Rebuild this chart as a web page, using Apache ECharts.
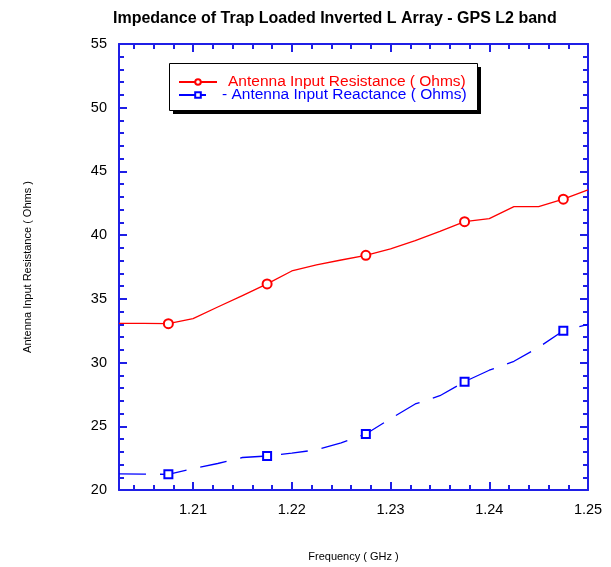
<!DOCTYPE html>
<html>
<head>
<meta charset="utf-8">
<script src="https://cdn.jsdelivr.net/npm/echarts@6/dist/echarts.min.js"></script>
<style>
  html, body { margin: 0; padding: 0; background: #fff; }
  #chart { width: 611px; height: 567px; }
</style>
</head>
<body>
<div id="chart"></div>
<script>
const titleText = 'Impedance of Trap Loaded Inverted L Array - GPS L2 band';
const resName = 'Antenna Input Resistance ( Ohms)';
const reaName = 'Antenna Input Reactance ( Ohms)';
const xName = 'Frequency ( GHz )';
const yName = 'Antenna Input Resistance ( Ohms )';

const freq = [1.2025, 1.205, 1.2075, 1.21, 1.2125, 1.215, 1.2175, 1.22, 1.2225, 1.225,
              1.2275, 1.23, 1.2325, 1.235, 1.2375, 1.24, 1.2425, 1.245, 1.2475, 1.25];
const resistance = [33.08, 33.08, 33.05, 33.45, 34.36, 35.26, 36.17, 37.19, 37.66, 38.05,
                    38.42, 38.92, 39.57, 40.3, 41.06, 41.30, 42.24, 42.24, 42.82, 43.55];
const reactance = [21.26, 21.25, 21.23, 21.67, 22.08, 22.55, 22.67, 22.9, 23.15, 23.7,
                   24.4, 25.6, 26.75, 27.4, 28.5, 29.4, 30.1, 31.2, 32.5, 33.0];
const markerFreqs = [1.2075, 1.2175, 1.2275, 1.2375, 1.2475];

const xMajorTicks = [1.21, 1.22, 1.23, 1.24, 1.25];
const xMinorTicks = [1.204, 1.206, 1.208, 1.212, 1.214, 1.216, 1.218, 1.222, 1.224, 1.226, 1.228,
                     1.232, 1.234, 1.236, 1.238, 1.242, 1.244, 1.246, 1.248];
const yMin = 20, yMax = 55, yStep = 5;
const xMin = 1.2025, xMax = 1.25;

const FONT = 'Liberation Sans, Arial, sans-serif';
const AXIS_BLUE = '#1f1fe6';
const RED = '#ff0000';
const BLUE = '#0000ff';

function buildData(vals, sym) {
  return freq.map((f, i) => ({
    value: [f, vals[i]],
    symbol: markerFreqs.includes(f) ? sym : 'none'
  }));
}

function xAxisDef(pos, ticks, len, showLine, showLabel) {
  return {
    type: 'value', position: pos, min: xMin, max: xMax,
    splitLine: { show: false },
    axisLine: { show: showLine, onZero: false, lineStyle: { color: AXIS_BLUE, width: 2 } },
    axisTick: { show: true, inside: true, length: len, customValues: ticks,
                lineStyle: { color: AXIS_BLUE, width: 2 } },
    axisLabel: showLabel ? { show: true, customValues: xMajorTicks, color: '#000', fontSize: 14.5,
                 fontFamily: FONT, margin: 12, formatter: v => v.toFixed(2) } : { show: false }
  };
}

function yAxisDef(pos, showLabel) {
  return {
    type: 'value', position: pos, min: yMin, max: yMax, interval: yStep,
    splitLine: { show: false },
    axisLine: { show: true, onZero: false, lineStyle: { color: AXIS_BLUE, width: 2 } },
    axisTick: { show: true, inside: true, length: 8, lineStyle: { color: AXIS_BLUE, width: 2 } },
    minorTick: { show: true, splitNumber: 5, length: 5, lineStyle: { color: AXIS_BLUE, width: 2 } },
    axisLabel: showLabel ? { show: true, color: '#000', fontSize: 14.5, fontFamily: FONT, margin: 12 } : { show: false }
  };
}

const chart = echarts.init(document.getElementById('chart'), null, { renderer: 'canvas' });

const xAxes = [
  xAxisDef('bottom', xMajorTicks, 8, true, true),
  xAxisDef('bottom', xMinorTicks, 5, false, false),
  xAxisDef('top', xMajorTicks, 8, true, false),
  xAxisDef('top', xMinorTicks, 5, false, false)
];
Object.assign(xAxes[0], {
  name: xName, nameLocation: 'middle', nameGap: 61,
  nameTextStyle: { fontSize: 11, fontFamily: FONT, color: '#000' }
});
const yAxes = [yAxisDef('left', true), yAxisDef('right', false)];
Object.assign(yAxes[0], {
  name: yName, nameLocation: 'middle', nameGap: 86,
  nameTextStyle: { fontSize: 11, fontFamily: FONT, color: '#000' }
});

chart.setOption({
  animation: false,
  backgroundColor: '#fff',
  title: {
    text: titleText, left: 108, top: 6,
    textStyle: { fontSize: 16, fontWeight: 'bold', fontFamily: FONT, color: '#000' }
  },
  graphic: [
    { type: 'rect', z: 1, shape: { x: 173, y: 67, width: 308, height: 47 },
      style: { fill: '#000' } },
    { type: 'rect', z: 2, shape: { x: 169.5, y: 63.5, width: 308, height: 47 },
      style: { fill: '#fff', stroke: '#000', lineWidth: 1 } }
  ],
  legend: {
    left: 169, top: 63, orient: 'vertical', z: 10,
    padding: [11, 10, 9, 9],
    itemWidth: 38, itemHeight: 7, itemGap: -3,
    textStyle: { fontSize: 15.5, fontFamily: FONT, lineHeight: 14 },
    formatter: name => (name === reaName ? '- ' + name : name),
    data: [
      { name: resName, textStyle: { color: RED, padding: [0, 0, 0, 6] } },
      { name: reaName, textStyle: { color: BLUE, padding: [0, 0, 0, 0] } }
    ]
  },
  grid: { left: 119, right: 23, top: 44, bottom: 77 },
  xAxis: xAxes,
  yAxis: yAxes,
  series: [
    {
      name: resName, type: 'line', xAxisIndex: 0, yAxisIndex: 0,
      data: buildData(resistance, 'emptyCircle'),
      symbol: 'emptyCircle', symbolSize: 9,
      lineStyle: { color: RED, width: 1.3 },
      itemStyle: { color: RED, borderWidth: 1.5 }
    },
    {
      name: reaName, type: 'line', xAxisIndex: 0, yAxisIndex: 0,
      data: buildData(reactance, 'emptyRect'),
      symbol: 'emptyRect', symbolSize: 8,
      lineStyle: { color: BLUE, width: 1.3, type: [27, 14] },
      itemStyle: { color: BLUE, borderWidth: 1.5 }
    }
  ]
});
</script>
</body>
</html>
